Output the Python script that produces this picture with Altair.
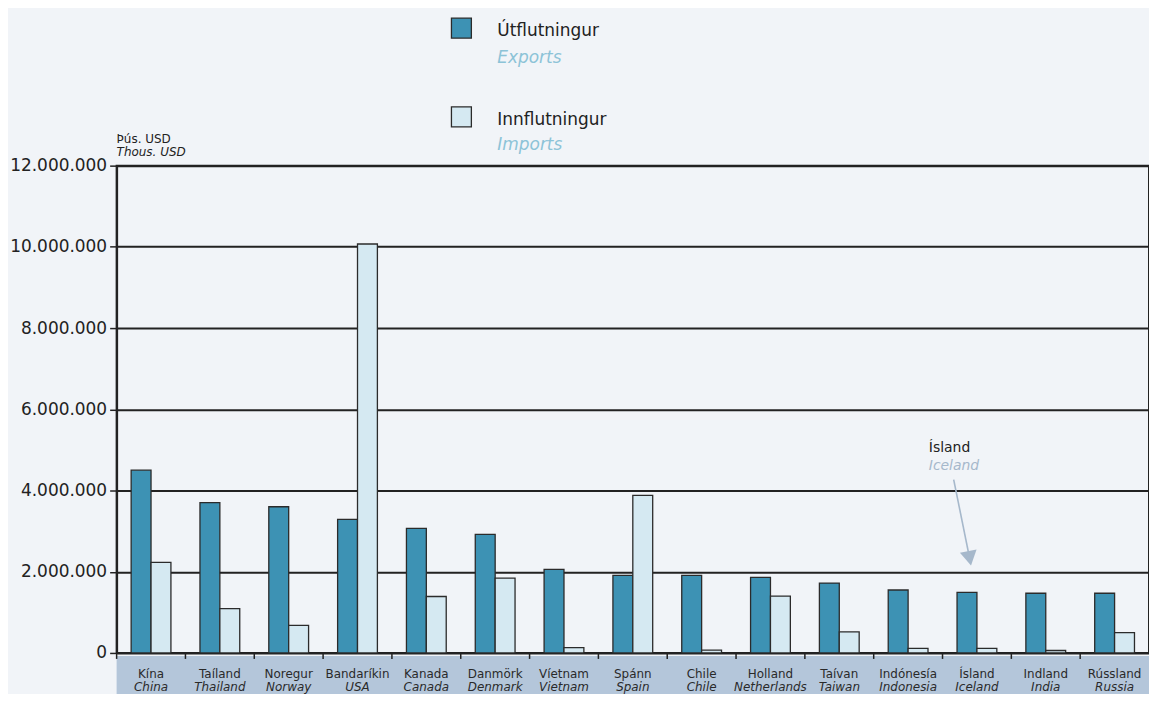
import altair as alt
import pandas as pd

# ---------------- data ----------------
cats_is = ["Kína", "Taíland", "Noregur", "Bandaríkin", "Kanada", "Danmörk", "Víetnam",
           "Spánn", "Chile", "Holland", "Taívan", "Indónesía", "Ísland", "Indland", "Rússland"]
cats_en = ["China", "Thailand", "Norway", "USA", "Canada", "Denmark", "Vietnam",
           "Spain", "Chile", "Netherlands", "Taiwan", "Indonesia", "Iceland", "India", "Russia"]
exports = [4500000, 3700000, 3600000, 3290000, 3070000, 2920000, 2060000,
           1910000, 1910000, 1860000, 1720000, 1550000, 1490000, 1470000, 1470000]
imports = [2230000, 1090000, 680000, 10070000, 1390000, 1840000, 130000,
           3880000, 70000, 1400000, 520000, 110000, 110000, 60000, 500000]
series_is = ["Útflutningur", "Innflutningur"]
series_en = ["Exports", "Imports"]
y_ticks = [0, 2000000, 4000000, 6000000, 8000000, 10000000, 12000000]
unit_is = "Þús. USD"
unit_en = "Thous. USD"
note_is = "Ísland"
note_en = "Iceland"

# ---------------- style ----------------
F = "DejaVu Sans"
C_EXP = "#3d92b4"
C_IMP = "#d5e9f2"
C_BAND = "#b4c6da"
C_BG = "#f1f4f8"
C_DARK = "#222222"
C_LEG_EN = "#8cc3d7"
C_NOTE = "#a6b8cb"
W, H = 1036, 489

bars_df = pd.DataFrame({
    "land": cats_is * 2,
    "series": [series_is[0]] * len(cats_is) + [series_is[1]] * len(cats_is),
    "value": exports + imports,
})
labels_df = pd.DataFrame({"land": cats_is, "en": cats_en})
dummy = pd.DataFrame({"a": [0]})

x_sort = cats_is

band = alt.Chart(dummy).mark_rect(fill=C_BAND).encode(
    x=alt.value(0), x2=alt.value(W + 4), y=alt.value(H + 3), y2=alt.value(H + 60)
)

bars = alt.Chart(bars_df).mark_bar(stroke="#2b2b2b", strokeWidth=1.3).encode(
    x=alt.X("land:N", sort=x_sort,
            scale=alt.Scale(paddingInner=0, paddingOuter=0),
            axis=alt.Axis(labels=False, title=None, domain=False, ticks=False, grid=False)),
    xOffset=alt.XOffset("series:N", sort=series_is,
                        scale=alt.Scale(paddingOuter=0.73, paddingInner=0)),
    y=alt.Y("value:Q",
            scale=alt.Scale(domain=[0, 12000000], nice=False),
            axis=alt.Axis(values=y_ticks, title=None,
                          labelExpr="replace(replace(format(datum.value, ','), ',', '.'), ',', '.')",
                          labelFont=F, labelFontSize=17, labelColor=C_DARK, labelPadding=3,
                          domain=True, domainColor=C_DARK, domainWidth=2,
                          ticks=True, tickColor=C_DARK, tickWidth=1.5, tickSize=7,
                          grid=True, gridColor=C_DARK, gridWidth=2)),
    color=alt.Color("series:N", sort=series_is,
                    scale=alt.Scale(domain=series_is, range=[C_EXP, C_IMP]), legend=None),
)

xticks = alt.Chart(labels_df).mark_rule(color=C_DARK, strokeWidth=1.5).encode(
    x=alt.X("land:N", sort=x_sort, bandPosition=0, axis=None),
    y=alt.value(H), y2=alt.value(H + 6),
)

lab_is = alt.Chart(labels_df).mark_text(
    font=F, fontSize=12, color="#2a2a2a", baseline="alphabetic"
).encode(x=alt.X("land:N", sort=x_sort, axis=None), y=alt.value(514), text="land:N")

lab_en = alt.Chart(labels_df).mark_text(
    font=F, fontSize=12, fontStyle="italic", color="#2a2a2a", baseline="alphabetic"
).encode(x=alt.X("land:N", sort=x_sort, axis=None), y=alt.value(527), text="en:N")


def txt(s, x, y, size, color, style="normal"):
    return alt.Chart(dummy).mark_text(
        text=s, font=F, fontSize=size, fontStyle=style, color=color,
        align="left", baseline="alphabetic"
    ).encode(x=alt.value(x), y=alt.value(y))


def box(x1, x2, y1, y2, fill):
    return alt.Chart(dummy).mark_rect(fill=fill, stroke="#2b2b2b", strokeWidth=1.3).encode(
        x=alt.value(x1), x2=alt.value(x2), y=alt.value(y1), y2=alt.value(y2)
    )


legend = [
    box(336, 356, -148, -128, C_EXP),
    txt(series_is[0], 382, -130, 17, C_DARK),
    txt(series_en[0], 382, -103, 17, C_LEG_EN, "italic"),
    box(336, 356, -59, -39, C_IMP),
    txt(series_is[1], 382, -41, 17, C_DARK),
    txt(series_en[1], 382, -16, 17, C_LEG_EN, "italic"),
]

ytitle = [
    txt(unit_is, 0, -23, 12, C_DARK),
    txt(unit_en, 0, -10, 12, C_DARK, "italic"),
]

note = [
    txt(note_is, 815, 287, 14, C_DARK),
    txt(note_en, 815, 305, 14, C_NOTE, "italic"),
    alt.Chart(dummy).mark_rule(color=C_NOTE, strokeWidth=1.6).encode(
        x=alt.value(840), x2=alt.value(856), y=alt.value(315), y2=alt.value(394)
    ),
    alt.Chart(dummy).mark_point(shape="triangle-down", filled=True, size=290,
                                color=C_NOTE, opacity=1, angle=349).encode(
        x=alt.value(856), y=alt.value(394)
    ),
]

chart = alt.layer(band, bars, xticks, lab_is, lab_en, *legend, *ytitle, *note).properties(
    width=W, height=H,
    autosize=alt.AutoSizeParams(type="none"),
    padding={"left": 109, "top": 157, "right": 0, "bottom": 40},
    background=C_BG,
).configure_view(stroke=C_DARK, strokeWidth=2)

chart.save("out.html", embed_options={"renderer": "svg", "actions": False})
